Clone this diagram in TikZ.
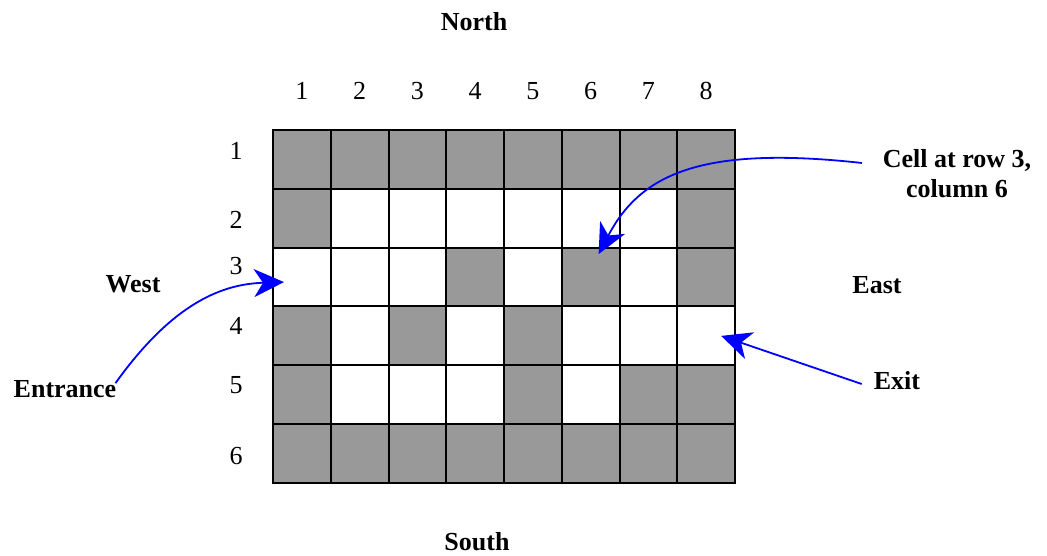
\documentclass[tikz,border=0pt]{standalone}
\usepackage{fontspec}
\setmainfont{Liberation Serif}
\usetikzlibrary{arrows.meta,positioning}

\begin{document}
\begin{tikzpicture}[
  x=1pt, y=-1pt,
  font=\fontsize{26}{30}\selectfont,
  cell/.style={rectangle, minimum width=57.75pt, minimum height=58.83pt, inner sep=0pt, outer sep=0pt},
  cell0/.style={cell, fill=white},
  cell1/.style={cell, fill=black!40},
  cellborder/.style={draw, line width=2pt},
  num/.style={inner sep=0pt},
  label/.style={inner sep=0pt, font=\fontsize{26}{30}\selectfont\bfseries},
  pointer/.style={-{Stealth[length=30pt,width=28pt,inset=9pt]}, blue, line width=1.8pt}
]
\useasboundingbox (0,0) rectangle (1047,556);

% Maze cells (1 = wall)
\foreach \r/\row in {1/{1,1,1,1,1,1,1,1}, 2/{1,0,0,0,0,0,0,1}, 3/{0,0,0,1,0,1,0,1},
                     4/{1,0,1,0,1,0,0,0}, 5/{1,0,0,0,1,0,1,1}, 6/{1,1,1,1,1,1,1,1}} {
  \foreach \w [count=\c] in \row {
    \node[cell\w] (c-\r-\c) at ({273+57.75*(\c-0.5)},{130+58.83*(\r-0.5)}) {};
  }
}
\foreach \r in {1,...,6} {
  \foreach \c in {1,...,8} {
    \draw[cellborder] (c-\r-\c.north west) rectangle (c-\r-\c.south east);
  }
}

% Column and row numbers
\foreach \c in {1,...,8} {
  \node[num] (col\c) at ({273+57.75*(\c-0.5)},91) {\c};
}
\foreach \r/\y in {1/151, 2/220, 3/266, 4/326, 5/385, 6/456} {
  \node[num] (row\r) at (236,\y) {\r};
}

% Directions
\node[label] (north) at (474,22) {North};
\node[label] (south) at (477,542) {South};
\node[label] (west) at (133,284) {West};
\node[label] (east) at (877,285) {East};

% Notes
\node[label] (entrance) at (65,389) {Entrance};
\node[label] (exit) at (897,381) {Exit};
\node[label, align=center] (cellnote) at (957,174) {Cell at row 3,\\column 6};
\coordinate (note-tail) at (862,163);

% Arrows
\draw[pointer] ([shift={(-1,3)}]entrance.north east) .. controls (175,300) and (225,284) .. ([shift={(11,5)}]c-3-1.west);
\draw[pointer] (note-tail) .. controls (700,145) and (640,175) .. ([shift={(8,-23)}]c-3-6.center);
\draw[pointer] ([xshift=-12pt,yshift=-3pt]exit.west) -- ([xshift=15pt]c-4-8.center);

\end{tikzpicture}
\end{document}
